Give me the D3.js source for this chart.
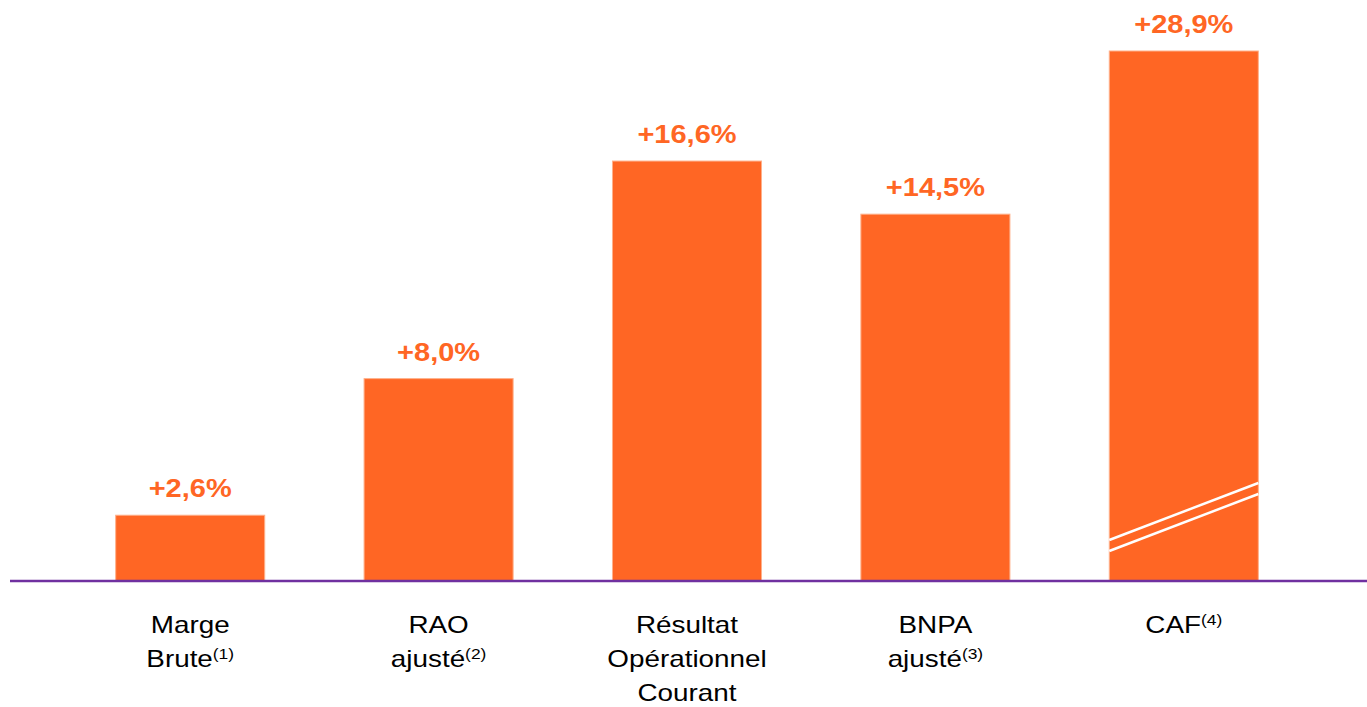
<!DOCTYPE html>
<html><head><meta charset="utf-8">
<script src="https://cdn.jsdelivr.net/npm/d3@7"></script>
<style>body{margin:0;background:#fff}svg{display:block}</style>
</head><body>
<svg id="c" width="1367" height="707"></svg>
<script>
const categories = ["Marge Brute", "RAO ajusté", "Résultat Opérationnel Courant", "BNPA ajusté", "CAF"];
const values = [2.6, 8.0, 16.6, 14.5, 28.9];
const valueLabels = ["+2,6%", "+8,0%", "+16,6%", "+14,5%", "+28,9%"];
const labelLines = [["Marge", "Brute"], ["RAO", "ajusté"], ["Résultat", "Opérationnel", "Courant"], ["BNPA", "ajusté"], ["CAF"]];
const footnotes = ["(1)", "(2)", "", "(3)", "(4)"];
const brokenBar = "CAF";

const svg = d3.select("#c");
const W = 1367, baseY = 581, topY = 51;
const orange = "#FF6624", purple = "#7030A0";
const SX = 1.16; // horizontal stretch of the source text
const FONT = "Liberation Sans, Arial, sans-serif";

const x = d3.scaleBand().domain(categories).range([66, 1308]).paddingInner(0.4).paddingOuter(0.2);
const y = d3.scaleLinear().domain([0, 20.95]).range([baseY, topY]).clamp(true);

const g = svg.append("g");
g.selectAll("rect.bar").data(categories).join("rect")
  .attr("class", "bar")
  .attr("x", d => x(d))
  .attr("width", x.bandwidth())
  .attr("y", (d, i) => y(values[i]))
  .attr("height", (d, i) => baseY - y(values[i]))
  .attr("fill", orange)
  .attr("stroke", "#FFB08A").attr("stroke-width", 1);

// break marks on truncated bar
const bx = x(brokenBar), bw = x.bandwidth();
[0, 11].forEach(off => {
  g.append("line")
    .attr("x1", bx).attr("y1", 540 + off)
    .attr("x2", bx + bw).attr("y2", 483 + off)
    .attr("stroke", "#fff").attr("stroke-width", 2.5);
});

// value labels
g.selectAll("g.val").data(categories).join("g")
  .attr("class", "val")
  .attr("transform", (d, i) => `translate(${x(d) + x.bandwidth() / 2},${y(values[i]) - 18}) scale(${SX},1)`)
  .append("text")
  .attr("text-anchor", "middle")
  .attr("font-family", FONT)
  .attr("font-weight", "bold").attr("font-size", 25)
  .attr("fill", orange)
  .text((d, i) => valueLabels[i]);

// baseline
svg.append("line").attr("x1", 10).attr("x2", W).attr("y1", baseY).attr("y2", baseY)
  .attr("stroke", purple).attr("stroke-width", 2.5);

// category labels
categories.forEach((c, i) => {
  const lines = labelLines[i];
  const cx = x(c) + x.bandwidth() / 2;
  lines.forEach((ln, j) => {
    const last = j === lines.length - 1;
    const lg = svg.append("g").attr("transform", `translate(${cx},${633 + j * 34}) scale(${SX},1)`);
    const t = lg.append("text")
      .attr("text-anchor", "middle")
      .attr("font-family", FONT)
      .attr("font-size", 24).attr("fill", "#000");
    t.append("tspan").text(ln);
    if (last && footnotes[i]) {
      t.append("tspan").attr("dy", -8).attr("font-size", 15).text(footnotes[i]);
    }
  });
});
</script>
</body></html>
